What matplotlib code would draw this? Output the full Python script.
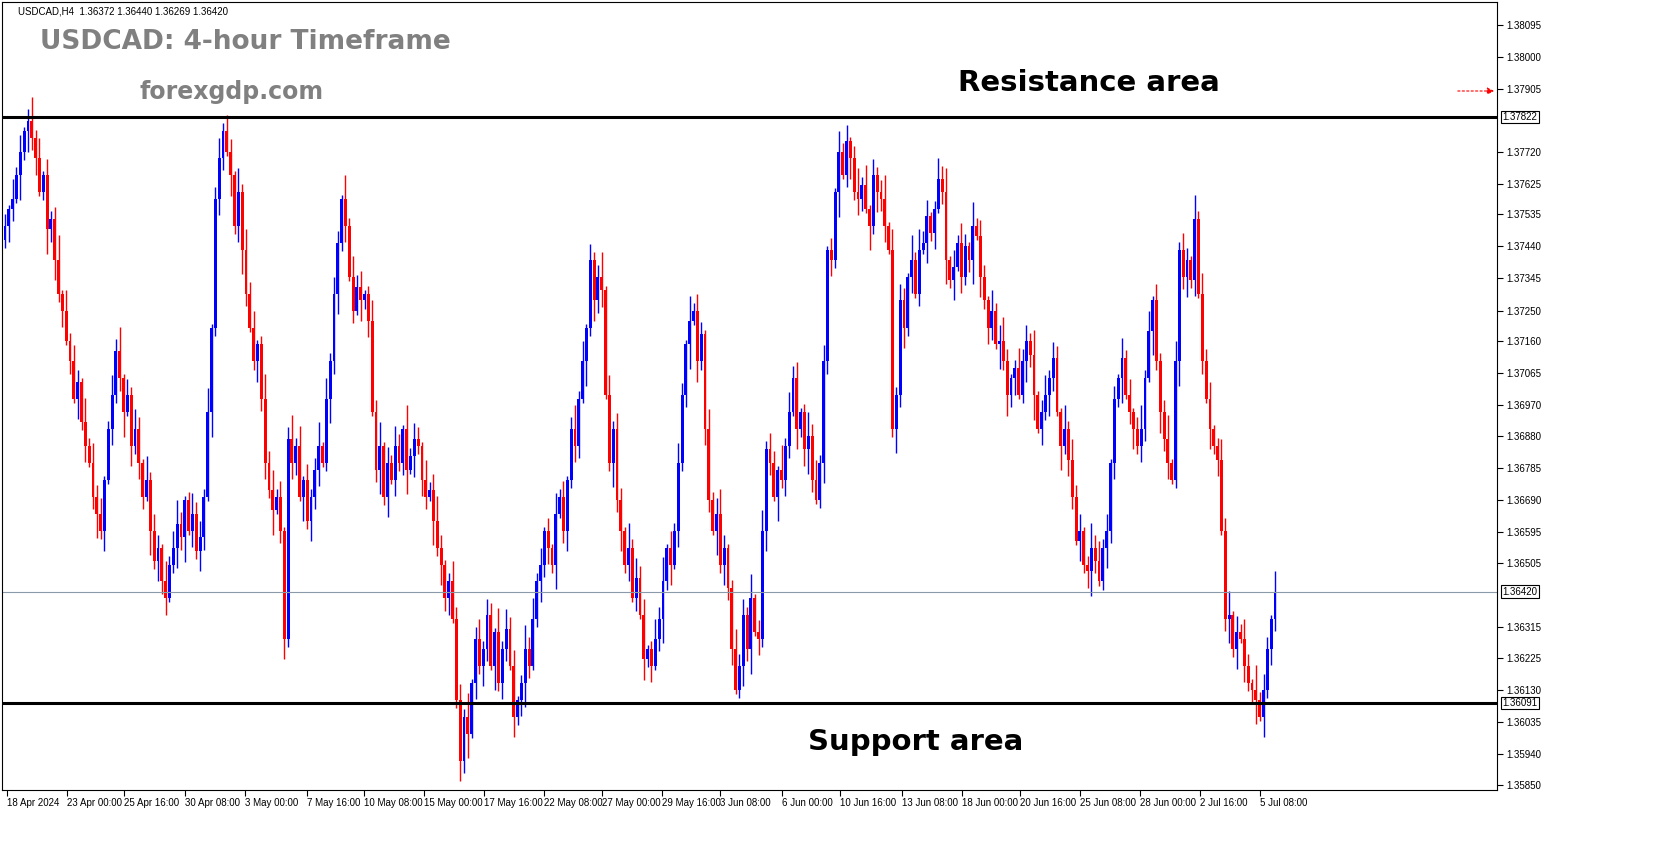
import numpy as np
import matplotlib
matplotlib.use("Agg")
import matplotlib.pyplot as plt

plt.rcParams["font.family"] = "Liberation Sans"

# closes in 0.0001 steps above 1.3600
close_pts = [
    150, 155, 158, 165, 172, 178, 181, 176, 170, 160, 165, 149, 152, 140, 130, 125, 116,
    110, 99, 104, 92, 85, 80, 70, 65, 60, 75, 90, 100, 113, 105, 95, 100, 85, 90, 80, 70,
    75, 60, 51, 55, 45, 40, 50, 55, 62, 58, 69, 60, 65, 54, 58, 70, 95, 120, 158, 170, 178,
    172, 165, 150, 160, 143, 130, 120, 110, 115, 99, 80, 72, 66, 70, 60, 28, 87, 80, 85, 70,
    75, 63, 70, 78, 85, 80, 99, 110, 130, 145, 158, 150, 135, 125, 132, 128, 130, 122, 95,
    78, 85, 70, 80, 75, 85, 80, 90, 78, 82, 87, 85, 75, 70, 72, 63, 55, 50, 40, 45, 34, 10,
    -8, 5, 0, 15, 28, 20, 25, 35, 20, 30, 15, 25, 31, 20, 5, 10, 15, 25, 20, 34, 45, 50, 60,
    55, 50, 65, 70, 60, 75, 90, 85, 99, 110, 120, 140, 128, 135, 131, 100, 80, 90, 69, 60,
    50, 55, 40, 46, 35, 22, 25, 20, 28, 34, 45, 55, 50, 60, 80, 100, 115, 122, 125, 110, 118,
    90, 69, 60, 65, 50, 55, 43, 25, 13, 20, 35, 25, 40, 30, 28, 60, 84, 80, 70, 78, 75, 85,
    95, 105, 90, 95, 84, 88, 75, 69, 80, 110, 143, 140, 160, 172, 165, 175, 170, 160, 158,
    162, 155, 150, 165, 160, 158, 150, 143, 90, 100, 128, 120, 135, 140, 130, 143, 145, 153,
    148, 155, 164, 160, 140, 134, 138, 145, 135, 144, 140, 150, 147, 135, 128, 120, 125, 115,
    116, 110, 100, 105, 108, 100, 110, 116, 112, 100, 90, 95, 100, 105, 111, 95, 85, 90, 81,
    70, 57, 60, 50, 48, 55, 51, 45, 55, 60, 80, 99, 105, 111, 100, 95, 90, 85, 90, 105, 119,
    128, 110, 95, 87, 80, 75, 110, 143, 135, 140, 134, 152, 130, 110, 99, 90, 85, 81, 60, 34,
    35, 25, 30, 28, 20, 15, 13, 10, 5, 13, 25, 34, 42,
]
upper_wick = ("31524136251423615243162534125361425316243152463125342613524316253412635241"
              "36251423615243162534125361425316243152463125342613524316253412635241315241"
              "36251423615243162534125361425316243152463125342613524316253412635241315241"
              "36251423615243162534125361425316243152463125342613524316253412635241315241"
              "3625142361524316253412536142531624315246")
lower_wick = ("24316253412635241315241362514236152431625341253614253162431524631253426135"
              "24316253412635241315241362514236152431625341253614253162431524631253426135"
              "24316253412635241315241362514236152431625341253614253162431524631253426135"
              "24316253412635241315241362514236152431625341253614253162431524631253426135"
              "2431625341263524131524136251423615243162")

price_ticks = [1.38095, 1.38000, 1.37905, 1.37720, 1.37625, 1.37535, 1.37440, 1.37345,
               1.37250, 1.37160, 1.37065, 1.36970, 1.36880, 1.36785, 1.36690, 1.36595,
               1.36505, 1.36315, 1.36225, 1.36130, 1.36035, 1.35940, 1.35850]
resistance = 1.37822
support = 1.36091
last_price = 1.36420
date_labels = ["18 Apr 2024", "23 Apr 00:00", "25 Apr 16:00", "30 Apr 08:00", "3 May 00:00",
               "7 May 16:00", "10 May 08:00", "15 May 00:00", "17 May 16:00", "22 May 08:00",
               "27 May 00:00", "29 May 16:00", "3 Jun 08:00", "6 Jun 00:00", "10 Jun 16:00",
               "13 Jun 08:00", "18 Jun 00:00", "20 Jun 16:00", "25 Jun 08:00", "28 Jun 00:00",
               "2 Jul 16:00", "5 Jul 08:00"]
date_px = [5, 65, 122, 183, 243, 305, 362, 422, 482, 542, 600, 660, 718, 780, 838, 900,
           960, 1018, 1078, 1138, 1198, 1258]

closes = 1.36 + np.array(close_pts) / 10000.0
closes[-1] = last_price
n = len(closes)
opens = np.concatenate([[closes[0] - 0.0004], closes[:-1]])
uw = np.array([int(c) for c in upper_wick[:n]]) * 0.00012
lw = np.array([int(c) for c in lower_wick[:n]]) * 0.00012
highs = np.maximum(opens, closes) + uw
lows = np.minimum(opens, closes) - lw

W, Hh = 1673, 861
fig = plt.figure(figsize=(W / 100, Hh / 100), dpi=100)
ax = fig.add_axes([2 / W, 1 - 790 / Hh, 1495 / W, 788 / Hh])

step = 1270 / (n - 1)  # px per bar
x = np.arange(n)
for i in range(n):
    col = "#0000ff" if closes[i] >= opens[i] else "#ff0000"
    ax.vlines(x[i], lows[i], highs[i], color=col, lw=1)
    b0, b1 = sorted([opens[i], closes[i]])
    ax.bar(x[i], max(b1 - b0, 0.00003), bottom=b0, width=0.75, color=col, lw=0)

ax.set_xlim(-3 / step, 1495 / step - 3 / step)
y_top = resistance + 115 / 33853
y_bot = resistance - (790 - 117) / 33853
ax.set_ylim(y_bot, y_top)

ax.axhline(resistance, color="black", lw=2.2)
ax.axhline(support, color="black", lw=2.2)
ax.axhline(last_price, color="#8a9aa8", lw=0.8)

ax.yaxis.tick_right()
ax.set_yticks(price_ticks)
ax.set_yticklabels([f"{v:.5f}" for v in price_ticks], fontsize=7)
ax.tick_params(axis="y", length=4, pad=3)
for v in [resistance, last_price, support]:
    ax.annotate(f"{v:.5f}", xy=(1.0, v), xycoords=("axes fraction", "data"),
                xytext=(4, 0), textcoords="offset points", va="center", fontsize=7,
                bbox=dict(boxstyle="square,pad=0.15", fc="white", ec="black", lw=0.8))

ax.set_xticks([(p - 3) / step for p in date_px])
ax.set_xticklabels(date_labels, fontsize=7, ha="left")
ax.tick_params(axis="x", length=4, pad=2)
for s in ax.spines.values():
    s.set_linewidth(0.8)

ax.annotate("", xy=(1497 / W, 1 - 91 / Hh), xytext=(1455 / W, 1 - 91 / Hh),
            xycoords="figure fraction",
            arrowprops=dict(arrowstyle="-|>", color="red", ls=(0, (2, 2)), lw=0.8))

fig.text(18 / W, 1 - 12 / Hh, "USDCAD,H4  1.36372 1.36440 1.36269 1.36420", fontsize=7, va="center")
fig.text(40 / W, 1 - 42 / Hh, "USDCAD: 4-hour Timeframe", fontsize=19, fontweight="bold",
         color="#808080", va="center", family="DejaVu Sans")
fig.text(140 / W, 1 - 92 / Hh, "forexgdp.com", fontsize=17, fontweight="bold",
         color="#808080", va="center", family="DejaVu Sans")
fig.text(958 / W, 1 - 83 / Hh, "Resistance area", fontsize=21, fontweight="bold", va="center",
         family="DejaVu Sans")
fig.text(808 / W, 1 - 742 / Hh, "Support area", fontsize=21, fontweight="bold", va="center",
         family="DejaVu Sans")

fig.savefig("out.png", dpi=100)
